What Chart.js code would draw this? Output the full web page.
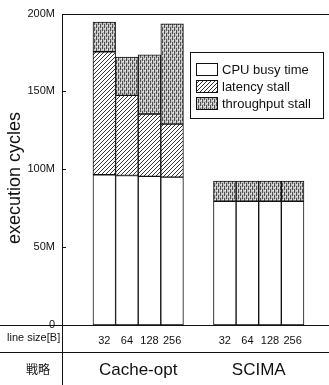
<!DOCTYPE html>
<html>
<head>
<meta charset="utf-8">
<script src="https://cdn.jsdelivr.net/npm/chart.js@4.4.0/dist/chart.umd.min.js"></script>
<style>
  html, body { margin: 0; padding: 0; background: #fff; }
</style>
</head>
<body>
<canvas id="myChart" width="329" height="385"></canvas>
<script>
// data (millions of cycles)
var groups = ["Cache-opt", "SCIMA"];
var lineSizes = ["32", "64", "128", "256"];
var busyTime = [[96.5, 96, 95.5, 95], [79.5, 79.5, 79.5, 79.5]];
var latencyStall = [[79, 51.5, 40, 34], [0, 0, 0, 0]];
var throughputStall = [[19, 24.5, 38, 64.5], [13, 13, 13, 13]];
var seriesLabels = ["CPU busy time", "latency stall", "throughput stall"];
var yTicks = [0, 50, 100, 150, 200];

var GROUP_STRIDE = 5.33; // bar slots from one group start to the next
var FONT = "'Liberation Sans', Arial, sans-serif";
var INK = "#111";

var ctx = document.getElementById("myChart").getContext("2d");

function hatchPattern() {
  var c = document.createElement("canvas");
  c.width = 4; c.height = 4;
  var g = c.getContext("2d");
  g.fillStyle = "#fff"; g.fillRect(0, 0, 4, 4);
  g.fillStyle = "#333";
  for (var k = 0; k < 4; k++) g.fillRect(k, 3 - k, 1, 1);
  return ctx.createPattern(c, "repeat");
}
// grey stipple with short vertical streaks
function stipplePattern() {
  var c = document.createElement("canvas");
  c.width = 4; c.height = 6;
  var g = c.getContext("2d");
  g.fillStyle = "#c4c4c4"; g.fillRect(0, 0, 4, 6);
  g.fillStyle = "#505050";
  g.fillRect(0, 0, 1, 4);
  g.fillRect(2, 3, 1, 3);
  g.fillRect(2, 0, 1, 1);
  g.fillStyle = "#f2f2f2";
  g.fillRect(1, 4, 1, 1);
  g.fillRect(3, 1, 1, 1);
  return ctx.createPattern(c, "repeat");
}

function barX(g, i) { return g * GROUP_STRIDE + i; }
function toPoints(series) {
  var pts = [];
  groups.forEach(function (name, g) {
    lineSizes.forEach(function (s, i) { pts.push({ x: barX(g, i), y: series[g][i] }); });
  });
  return pts;
}

var fills = ["#fff", hatchPattern(), stipplePattern()];
var allSeries = [busyTime, latencyStall, throughputStall];

var tablePlugin = {
  id: "table",
  afterDraw: function (chart) {
    var c = chart.ctx, a = chart.chartArea, W = chart.width, H = chart.height;
    var xs = chart.scales.x, ys = chart.scales.y;
    var rowY = a.bottom + 27;
    c.save();
    c.strokeStyle = INK; c.lineWidth = 1;
    c.beginPath();
    c.moveTo(Math.round(a.left) + 0.5, Math.round(a.top));
    c.lineTo(Math.round(a.left) + 0.5, H);
    c.moveTo(a.left, Math.round(a.top) + 0.5); c.lineTo(W, Math.round(a.top) + 0.5);
    c.moveTo(0, Math.round(a.bottom) + 0.5); c.lineTo(W, Math.round(a.bottom) + 0.5);
    c.moveTo(0, Math.round(rowY) + 0.5); c.lineTo(W, Math.round(rowY) + 0.5);
    yTicks.forEach(function (v) {
      var y = Math.round(ys.getPixelForValue(v)) + 0.5;
      c.moveTo(a.left, y); c.lineTo(a.left + 4, y);
    });
    c.stroke();

    // y title
    c.fillStyle = INK;
    c.save();
    c.translate(15, 178);
    c.rotate(-Math.PI / 2);
    c.font = "18px " + FONT;
    c.textAlign = "center"; c.textBaseline = "middle";
    c.fillText("execution cycles", 0, 0);
    c.restore();

    // table rows
    c.textBaseline = "middle";
    c.font = "11px " + FONT;
    c.textAlign = "left";
    c.fillText("line size[B]", 7, a.bottom + 13);
    c.textAlign = "center";
    groups.forEach(function (name, g) {
      lineSizes.forEach(function (s, i) {
        c.fillText(s, xs.getPixelForValue(barX(g, i)), a.bottom + 16);
      });
    });
    c.font = "17px " + FONT;
    groups.forEach(function (name, g) {
      var mid = (xs.getPixelForValue(barX(g, 0)) + xs.getPixelForValue(barX(g, lineSizes.length - 1))) / 2;
      c.fillText(name, mid, rowY + 18);
    });
    c.font = "12px 'Noto Sans CJK JP', sans-serif";
    c.fillText("戦略", 38, rowY + 17);

    // legend
    var lx = 190, ly = 52;
    c.fillStyle = "#fff";
    c.fillRect(lx, ly, 133, 66);
    c.strokeRect(lx + 0.5, ly + 0.5, 133, 66);
    seriesLabels.forEach(function (lab, k) {
      var y = ly + 11 + k * 17;
      c.fillStyle = fills[k];
      c.fillRect(196, y, 21, 12);
      c.strokeRect(196.5, y + 0.5, 21, 12);
      c.fillStyle = INK;
      c.font = "13px " + FONT;
      c.textAlign = "left";
      c.fillText(lab, 222, y + 7);
    });
    c.restore();
  }
};

new Chart(ctx, {
  type: "bar",
  data: {
    datasets: allSeries.map(function (series, k) {
      return {
        label: seriesLabels[k],
        data: toPoints(series),
        backgroundColor: fills[k],
        borderColor: INK,
        borderWidth: 1,
        borderSkipped: false,
        barPercentage: 1,
        categoryPercentage: 1
      };
    })
  },
  options: {
    responsive: false,
    animation: false,
    devicePixelRatio: 1,
    layout: { padding: { top: 7, right: 2, bottom: 60, left: 0 } },
    plugins: { legend: { display: false }, tooltip: { enabled: false } },
    scales: {
      x: {
        type: "linear",
        stacked: true,
        min: -1.87,
        max: 9.85,
        display: false,
        afterBuildTicks: function (s) { s.ticks = []; }
      },
      y: {
        stacked: true,
        min: 0,
        max: 200,
        afterFit: function (s) { s.width = 62; },
        afterBuildTicks: function (s) { s.ticks = yTicks.map(function (v) { return { value: v }; }); },
        grid: { display: false, drawTicks: false },
        border: { display: false },
        ticks: {
          padding: 7,
          color: INK,
          font: { family: FONT, size: 11 },
          callback: function (v) { return v === 0 ? "0" : v + "M"; }
        }
      }
    }
  },
  plugins: [tablePlugin]
});
</script>
</body>
</html>
